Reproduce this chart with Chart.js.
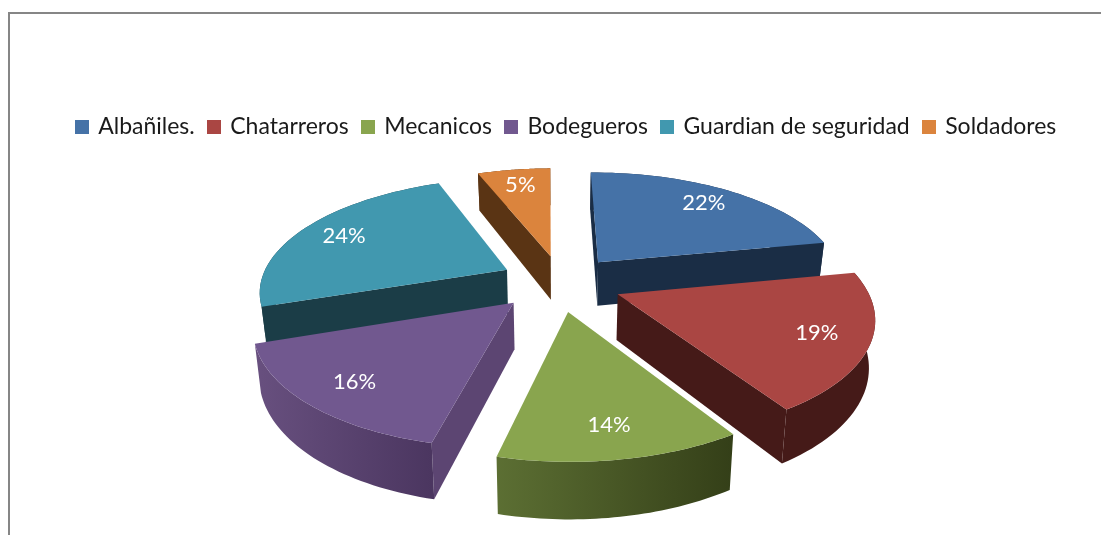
<!DOCTYPE html>
<html>
<head>
<meta charset="utf-8">
<script src="https://cdn.jsdelivr.net/npm/chart.js@4"></script>
<style>
  html, body { margin: 0; background: #fff; }
  #wrap { position: relative; width: 1101px; height: 535px; overflow: hidden; }
  #frame { position: absolute; left: 8px; top: 12px; width: 1100px; height: 530px; border: solid #868686; border-width: 2px 0 0 2px; box-sizing: border-box; }
  canvas { position: absolute; left: 0; top: 0; }
</style>
</head>
<body>
<div id="wrap">
  <div id="frame"></div>
  <canvas id="pie" width="1101" height="535"></canvas>
</div>
<script>
const categories = ['Albañiles.', 'Chatarreros', 'Mecanicos', 'Bodegueros', 'Guardian de seguridad', 'Soldadores'];
const shares = [22, 19, 14, 16, 24, 5];
const topColors = ['#4572a7', '#aa4643', '#89a54e', '#71588f', '#4198af', '#db843d'];
const wallColors = ['#1a2d45', '#451a18', '#37421b', '#5c4572', '#1b3d47', '#5a3414'];
const rimFrom = ['#1a2d45', '#451a18', '#5c6f33', '#68507f', '#1b3d47', '#5a3414'];
const rimTo = ['#1a2d45', '#451a18', '#343f18', '#4b3660', '#1b3d47', '#5a3414'];

// look of the tilted pie
const CX = 560, CY = 283, RX = 247, RY = 112, DEPTH = 45, PERSP = 0.175, EXPLODE = 0.25;
const LOW_SCALE = 0.98, LABEL_R = 0.8;
// the 3d view bends the left side of the circle a little: [degrees from top, shift in degrees]
const BEND = [[0, -0.5], [148, 0], [198, -4.5], [260, -4.5], [342, -3.2], [360, -0.5]];

function bend(t) {
  const deg = (((t + Math.PI / 2) * 180 / Math.PI) % 360 + 360) % 360;
  for (let i = 1; i < BEND.length; i++) {
    if (deg <= BEND[i][0]) {
      const f = (deg - BEND[i - 1][0]) / (BEND[i][0] - BEND[i - 1][0]);
      return t + (BEND[i - 1][1] + (BEND[i][1] - BEND[i - 1][1]) * f) * Math.PI / 180;
    }
  }
  return t;
}

function squareIcon(color) {
  const c = document.createElement('canvas');
  c.width = 14;
  c.height = 14;
  const g = c.getContext('2d');
  g.fillStyle = color;
  g.fillRect(0, 0, 14, 14);
  return c;
}

function project(u, v, low) {
  const s = 1 / (1 - PERSP * v);
  return {
    x: CX + RX * u * s * (low ? LOW_SCALE : 1),
    y: CY + RY * v * s + (low ? DEPTH * s : 0),
  };
}

function path(ctx, pts) {
  ctx.beginPath();
  pts.forEach((p, i) => (i ? ctx.lineTo(p.x, p.y) : ctx.moveTo(p.x, p.y)));
  ctx.closePath();
}

function area(pts) {
  let a = 0;
  pts.forEach((p, i) => {
    const q = pts[(i + 1) % pts.length];
    a += p.x * q.y - q.x * p.y;
  });
  return a;
}

const pie3d = {
  id: 'pie3d',
  beforeDatasetsDraw(chart) {
    const ctx = chart.ctx;
    const arcs = chart.getDatasetMeta(0).data.map((arc, i) => {
      const mid = (arc.startAngle + arc.endAngle) / 2;
      return { i, start: arc.startAngle, end: arc.endAngle, mid, ox: Math.cos(mid) * EXPLODE, oy: Math.sin(mid) * EXPLODE };
    });
    arcs.sort((a, b) => a.oy - b.oy);

    arcs.forEach((a) => {
      const top = [];
      const low = [];
      for (let k = 0; k <= 40; k++) {
        const t = bend(a.start + (a.end - a.start) * (k === 40 ? 0.9999 : k / 40));
        top.push(project(a.ox + Math.cos(t), a.oy + Math.sin(t), false));
        low.push(project(a.ox + Math.cos(t), a.oy + Math.sin(t), true));
      }
      const apex = project(a.ox, a.oy, false);
      const apexLow = project(a.ox, a.oy, true);

      const startWall = [apex, top[0], low[0], apexLow];
      const endWall = [apex, top[40], low[40], apexLow];
      ctx.fillStyle = wallColors[a.i];
      if (area(startWall) < 0) { path(ctx, startWall); ctx.fill(); }
      if (area(endWall) > 0) { path(ctx, endWall); ctx.fill(); }

      const xs = top.map((p) => p.x);
      const grad = ctx.createLinearGradient(Math.min(...xs), 0, Math.max(...xs), 0);
      grad.addColorStop(0, rimFrom[a.i]);
      grad.addColorStop(1, rimTo[a.i]);
      ctx.fillStyle = grad;
      path(ctx, top.concat(low.slice().reverse()));
      ctx.fill();

      ctx.fillStyle = topColors[a.i];
      path(ctx, [apex].concat(top));
      ctx.fill();
    });

    ctx.fillStyle = '#fff';
    ctx.font = '22px Lato';
    ctx.textAlign = 'center';
    ctx.textBaseline = 'middle';
    arcs.forEach((a) => {
      const t = bend(a.mid);
      const p = project(a.ox + Math.cos(t) * LABEL_R, a.oy + Math.sin(t) * LABEL_R, false);
      ctx.fillText(shares[a.i] + '%', p.x, p.y);
    });
    return false;
  },
};

new Chart(document.getElementById('pie'), {
  type: 'pie',
  data: {
    labels: categories,
    datasets: [{ data: shares, backgroundColor: topColors, borderWidth: 0 }],
  },
  options: {
    responsive: false,
    animation: false,
    layout: { padding: { top: 100, left: 33 } },
    plugins: {
      tooltip: { enabled: false },
      legend: {
        position: 'top',
        labels: {
          color: '#1a1a1a',
          font: { family: 'Lato', size: 23 },
          padding: 15,
          usePointStyle: true,
          pointStyleWidth: 9,
          generateLabels(chart) {
            return Chart.overrides.pie.plugins.legend.labels.generateLabels(chart).map((item, i) => ({
              ...item,
              pointStyle: squareIcon(topColors[i]),
            }));
          },
        },
      },
    },
  },
  plugins: [pie3d],
});
</script>
</body>
</html>
